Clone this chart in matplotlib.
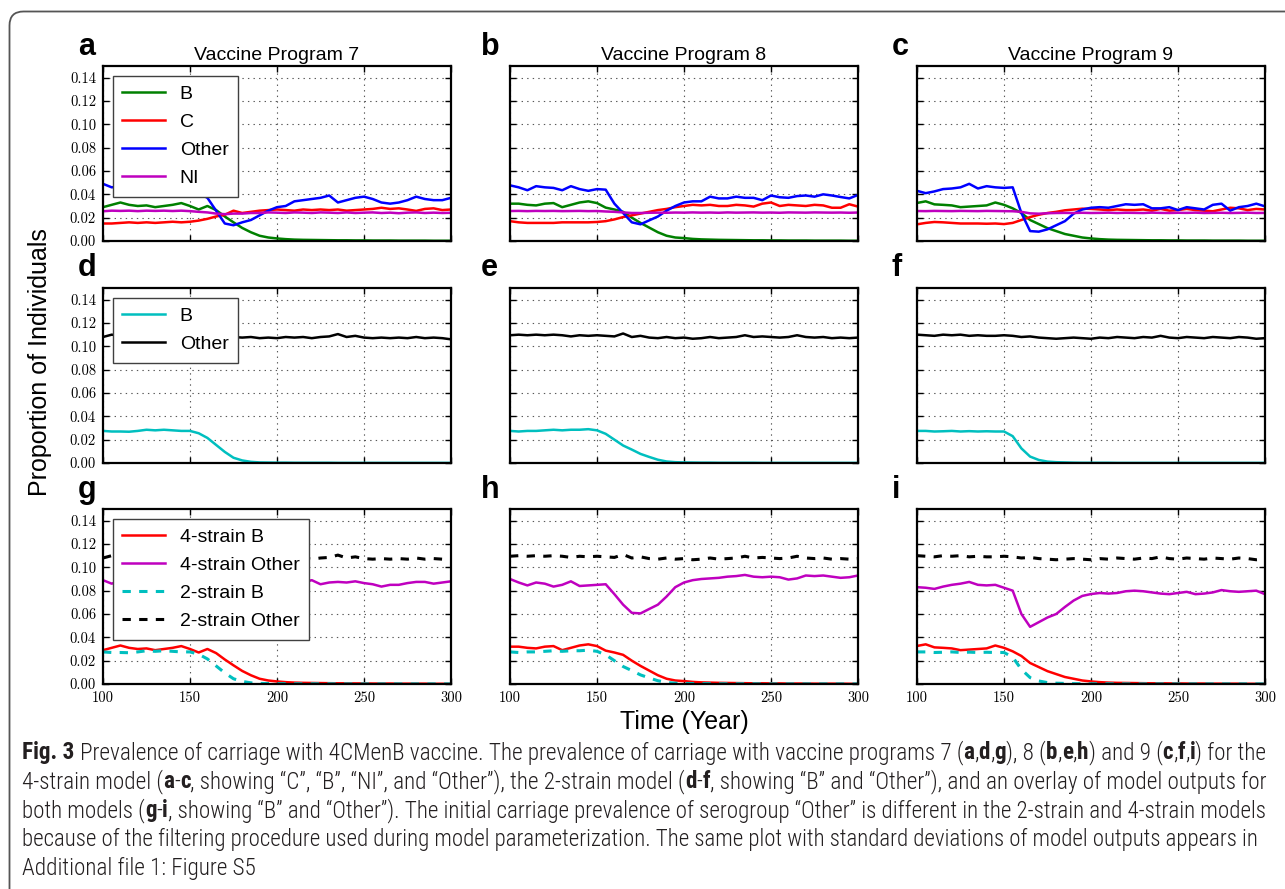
import matplotlib
matplotlib.use("Agg")
import matplotlib.pyplot as plt
from matplotlib import font_manager as fm
from matplotlib.patches import FancyBboxPatch
from matplotlib.transforms import IdentityTransform
from matplotlib.ticker import FixedLocator, FormatStrFormatter

# ---------------------------------------------------------------- data
years = list(range(100, 301, 5))
x_ticks = [100, 150, 200, 250, 300]
y_ticks = [0.00, 0.02, 0.04, 0.06, 0.08, 0.10, 0.12, 0.14]

programs = ["Vaccine Program 7", "Vaccine Program 8", "Vaccine Program 9"]
panel_letters = ["a", "b", "c", "d", "e", "f", "g", "h", "i"]

# 4-strain model (panels a-c)
b4_vp7 = [0.029, 0.031, 0.033, 0.031, 0.030, 0.0305, 0.029, 0.030, 0.031, 0.0325, 0.030,
          0.027, 0.030, 0.0265, 0.021, 0.016, 0.0112, 0.0075, 0.0045, 0.003, 0.0022,
          0.0016, 0.0012, 0.001, 0.0009, 0.0008, 0.0007, 0.0006, 0.0006, 0.0005, 0.0005,
          0.0004, 0.0004, 0.0004, 0.0003, 0.0003, 0.0003, 0.0003, 0.0002, 0.0002, 0.0002]
c4_vp7 = [0.015, 0.015, 0.0155, 0.016, 0.0155, 0.016, 0.0155, 0.016, 0.0165, 0.016, 0.0165,
          0.0175, 0.019, 0.021, 0.0225, 0.026, 0.024, 0.025, 0.026, 0.0265, 0.027,
          0.0265, 0.026, 0.027, 0.0265, 0.027, 0.0265, 0.027, 0.026, 0.0265, 0.027,
          0.0275, 0.0285, 0.0275, 0.028, 0.027, 0.0258, 0.0275, 0.028, 0.0265, 0.027]
other4_vp7 = [0.049, 0.046, 0.047, 0.046, 0.045, 0.046, 0.044, 0.045, 0.044, 0.045, 0.043,
              0.041, 0.037, 0.026, 0.015, 0.0135, 0.016, 0.018, 0.022, 0.026, 0.029,
              0.030, 0.034, 0.035, 0.036, 0.037, 0.039, 0.033, 0.035, 0.037, 0.038,
              0.036, 0.033, 0.032, 0.033, 0.035, 0.038, 0.036, 0.035, 0.035, 0.037]
ni4_vp7 = [0.0255, 0.026, 0.0258, 0.026, 0.0256, 0.026, 0.0258, 0.026, 0.0257, 0.026, 0.0256,
           0.025, 0.0245, 0.0235, 0.023, 0.0235, 0.0235, 0.024, 0.024, 0.0245, 0.0243,
           0.024, 0.0245, 0.0243, 0.024, 0.0245, 0.0243, 0.024, 0.0245, 0.024, 0.0243,
           0.0245, 0.024, 0.0243, 0.0238, 0.0243, 0.0245, 0.024, 0.0243, 0.024, 0.0242]

b4_vp8 = [0.032, 0.032, 0.031, 0.0305, 0.032, 0.0325, 0.029, 0.031, 0.033, 0.034, 0.0325,
          0.0286, 0.027, 0.025, 0.020, 0.0155, 0.0115, 0.0075, 0.0045, 0.003, 0.0025,
          0.0018, 0.0014, 0.0012, 0.001, 0.0009, 0.0008, 0.0007, 0.0006, 0.0006, 0.0005,
          0.0005, 0.0004, 0.0004, 0.0004, 0.0003, 0.0003, 0.0003, 0.0003, 0.0002, 0.0002]
c4_vp8 = [0.017, 0.016, 0.0155, 0.0155, 0.0155, 0.0155, 0.016, 0.016, 0.016, 0.016, 0.0163,
          0.017, 0.0185, 0.0205, 0.022, 0.0235, 0.025, 0.0265, 0.0275, 0.029, 0.030,
          0.031, 0.0305, 0.031, 0.030, 0.030, 0.031, 0.0305, 0.0295, 0.032, 0.033,
          0.030, 0.031, 0.0305, 0.030, 0.031, 0.0305, 0.0285, 0.0285, 0.0315, 0.0295]
other4_vp8 = [0.0477, 0.046, 0.0435, 0.047, 0.046, 0.0455, 0.0435, 0.047, 0.0445, 0.043, 0.0445,
              0.044, 0.032, 0.024, 0.016, 0.0143, 0.0177, 0.021, 0.026, 0.030, 0.033,
              0.034, 0.034, 0.038, 0.0365, 0.0365, 0.038, 0.037, 0.037, 0.035, 0.039,
              0.0375, 0.037, 0.0385, 0.039, 0.038, 0.040, 0.039, 0.0377, 0.0365, 0.0395]
ni4_vp8 = [0.0257, 0.0258, 0.0256, 0.0258, 0.0257, 0.0258, 0.0256, 0.0257, 0.0258, 0.0256, 0.0257,
           0.0253, 0.025, 0.0245, 0.024, 0.024, 0.0242, 0.0243, 0.0242, 0.0244, 0.0243,
           0.0245, 0.0243, 0.0244, 0.0242, 0.0245, 0.0243, 0.0244, 0.0245, 0.0243, 0.0244,
           0.0242, 0.0245, 0.0244, 0.0243, 0.0245, 0.0244, 0.0243, 0.0244, 0.0242, 0.0244]

b4_vp9 = [0.0326, 0.034, 0.0314, 0.031, 0.0305, 0.029, 0.0295, 0.030, 0.0305, 0.033, 0.031,
          0.028, 0.024, 0.018, 0.0145, 0.011, 0.0085, 0.006, 0.0045, 0.003, 0.0022,
          0.0016, 0.0012, 0.001, 0.0009, 0.0008, 0.0007, 0.0006, 0.0006, 0.0005, 0.0005,
          0.0004, 0.0004, 0.0004, 0.0003, 0.0003, 0.0003, 0.0003, 0.0002, 0.0002, 0.0002]
c4_vp9 = [0.0143, 0.0155, 0.0163, 0.016, 0.0155, 0.015, 0.015, 0.015, 0.0148, 0.015, 0.0145,
          0.0155, 0.018, 0.0205, 0.0225, 0.024, 0.025, 0.0263, 0.027, 0.0277, 0.0275,
          0.027, 0.0265, 0.027, 0.0265, 0.0265, 0.027, 0.026, 0.0275, 0.026, 0.0265,
          0.0275, 0.0265, 0.026, 0.0255, 0.027, 0.0285, 0.028, 0.0265, 0.0275, 0.027]
other4_vp9 = [0.043, 0.041, 0.0425, 0.0445, 0.045, 0.046, 0.049, 0.045, 0.047, 0.046, 0.0455,
              0.046, 0.024, 0.0085, 0.008, 0.010, 0.0135, 0.017, 0.0234, 0.027, 0.0285,
              0.029, 0.0285, 0.030, 0.0315, 0.031, 0.0315, 0.028, 0.028, 0.029, 0.0265,
              0.029, 0.028, 0.027, 0.031, 0.032, 0.026, 0.029, 0.030, 0.032, 0.0297]
ni4_vp9 = [0.0257, 0.0256, 0.0258, 0.0257, 0.0256, 0.0258, 0.0257, 0.0256, 0.0258, 0.0257, 0.0256,
           0.0255, 0.025, 0.0237, 0.0234, 0.0238, 0.024, 0.0241, 0.024, 0.0242, 0.024,
           0.0241, 0.0243, 0.024, 0.0242, 0.0241, 0.024, 0.0243, 0.0241, 0.024, 0.0242,
           0.0241, 0.0243, 0.024, 0.0241, 0.0242, 0.024, 0.0241, 0.0243, 0.024, 0.0241]

# 2-strain model (panels d-f)
b2_vp7 = [0.0275, 0.027, 0.027, 0.0268, 0.0275, 0.0285, 0.028, 0.0285, 0.028, 0.0275, 0.0275,
          0.0255, 0.0215, 0.0155, 0.0095, 0.0045, 0.0022, 0.001, 0.0005, 0.0004, 0.0003,
          0.0003, 0.0002, 0.0002, 0.0002, 0.0002, 0.0002, 0.0001, 0.0001, 0.0001, 0.0001,
          0.0001, 0.0001, 0.0001, 0.0001, 0.0001, 0.0001, 0.0001, 0.0001, 0.0001, 0.0001]
b2_vp8 = [0.0275, 0.027, 0.0275, 0.0275, 0.028, 0.0285, 0.028, 0.0285, 0.0285, 0.029, 0.028,
          0.025, 0.020, 0.015, 0.0115, 0.0078, 0.0052, 0.0028, 0.0013, 0.0007, 0.0005,
          0.0004, 0.0003, 0.0003, 0.0002, 0.0002, 0.0002, 0.0002, 0.0002, 0.0001, 0.0001,
          0.0001, 0.0001, 0.0001, 0.0001, 0.0001, 0.0001, 0.0001, 0.0001, 0.0001, 0.0001]
b2_vp9 = [0.0275, 0.0275, 0.027, 0.0272, 0.0275, 0.027, 0.0273, 0.027, 0.0272, 0.027, 0.027,
          0.023, 0.0125, 0.0055, 0.0026, 0.0012, 0.0007, 0.0005, 0.0003, 0.0002, 0.0002,
          0.0002, 0.0002, 0.0001, 0.0001, 0.0001, 0.0001, 0.0001, 0.0001, 0.0001, 0.0001,
          0.0001, 0.0001, 0.0001, 0.0001, 0.0001, 0.0001, 0.0001, 0.0001, 0.0001, 0.0001]
other2_vp7 = [0.108, 0.110, 0.109, 0.108, 0.1085, 0.108, 0.109, 0.1085, 0.108, 0.109, 0.1085,
              0.108, 0.1085, 0.108, 0.1075, 0.108, 0.1075, 0.108, 0.107, 0.1075, 0.107,
              0.108, 0.1075, 0.108, 0.107, 0.108, 0.1085, 0.1105, 0.108, 0.109, 0.1075,
              0.107, 0.1075, 0.107, 0.1075, 0.107, 0.108, 0.107, 0.1075, 0.107, 0.106]
other2_vp8 = [0.1095, 0.110, 0.1095, 0.110, 0.1095, 0.110, 0.1095, 0.1085, 0.1095, 0.109, 0.1095,
              0.109, 0.1085, 0.111, 0.108, 0.109, 0.1075, 0.107, 0.108, 0.107, 0.1075,
              0.1065, 0.107, 0.108, 0.107, 0.1075, 0.108, 0.1095, 0.108, 0.1085, 0.108,
              0.1075, 0.108, 0.1095, 0.108, 0.1075, 0.108, 0.107, 0.1075, 0.107, 0.1075]
other2_vp9 = [0.110, 0.1095, 0.109, 0.110, 0.1095, 0.110, 0.109, 0.1095, 0.109, 0.109, 0.1095,
              0.109, 0.108, 0.1085, 0.1075, 0.107, 0.1065, 0.107, 0.1075, 0.107, 0.1065,
              0.1075, 0.107, 0.108, 0.1075, 0.107, 0.108, 0.1075, 0.109, 0.1075, 0.107,
              0.108, 0.1075, 0.107, 0.108, 0.1075, 0.107, 0.108, 0.1075, 0.1065, 0.107]

# 4-strain "Other" (all non-B) shown in overlay panels g-i
oth4all_vp7 = [0.089, 0.086, 0.0885, 0.088, 0.086, 0.0875, 0.085, 0.087, 0.086, 0.087, 0.085,
               0.084, 0.080, 0.070, 0.061, 0.062, 0.0635, 0.0665, 0.072, 0.077, 0.080,
               0.081, 0.084, 0.087, 0.089, 0.0855, 0.087, 0.0875, 0.087, 0.088, 0.0865,
               0.0855, 0.0835, 0.085, 0.085, 0.0865, 0.0875, 0.0875, 0.086, 0.087, 0.088]
oth4all_vp8 = [0.090, 0.087, 0.0845, 0.087, 0.086, 0.0835, 0.085, 0.088, 0.084, 0.0845, 0.085,
               0.0855, 0.077, 0.068, 0.061, 0.0605, 0.0643, 0.068, 0.075, 0.083, 0.087,
               0.089, 0.090, 0.0905, 0.091, 0.092, 0.0925, 0.0935, 0.092, 0.0915, 0.092,
               0.0915, 0.0895, 0.0905, 0.093, 0.0925, 0.093, 0.092, 0.091, 0.0915, 0.093]
oth4all_vp9 = [0.083, 0.0825, 0.0815, 0.0835, 0.085, 0.086, 0.0875, 0.085, 0.0845, 0.085, 0.0825,
               0.080, 0.060, 0.049, 0.053, 0.057, 0.060, 0.066, 0.0715, 0.0755, 0.0771,
               0.078, 0.0775, 0.078, 0.0795, 0.080, 0.0795, 0.0785, 0.0775, 0.077, 0.078,
               0.079, 0.077, 0.0775, 0.0785, 0.0805, 0.0795, 0.079, 0.0795, 0.080, 0.077]

for arr in [b4_vp7, c4_vp7, other4_vp7, ni4_vp7, b4_vp8, c4_vp8, other4_vp8, ni4_vp8,
            b4_vp9, c4_vp9, other4_vp9, ni4_vp9, b2_vp7, b2_vp8, b2_vp9,
            other2_vp7, other2_vp8, other2_vp9, oth4all_vp7, oth4all_vp8, oth4all_vp9]:
    assert len(arr) == len(years), len(arr)

four_strain = [(b4_vp7, c4_vp7, other4_vp7, ni4_vp7),
               (b4_vp8, c4_vp8, other4_vp8, ni4_vp8),
               (b4_vp9, c4_vp9, other4_vp9, ni4_vp9)]
two_strain = [(b2_vp7, other2_vp7), (b2_vp8, other2_vp8), (b2_vp9, other2_vp9)]
overlay_other4 = [oth4all_vp7, oth4all_vp8, oth4all_vp9]

# caption; **...** marks bold runs
caption_lines = [
    "**Fig. 3** Prevalence of carriage with 4CMenB vaccine. The prevalence of carriage with vaccine programs 7 (**a**,**d**,**g**), 8 (**b**,**e**,**h**) and 9 (**c**,**f**,**i**) for the",
    "4-strain model (**a**-**c**, showing “C”, “B”, “NI”, and “Other”), the 2-strain model (**d**-**f**, showing “B” and “Other”), and an overlay of model outputs for",
    "both models (**g**-**i**, showing “B” and “Other”). The initial carriage prevalence of serogroup “Other” is different in the 2-strain and 4-strain models",
    "because of the filtering procedure used during model parameterization. The same plot with standard deviations of model outputs appears in",
    "Additional file 1: Figure S5",
]

# ---------------------------------------------------------------- fonts
names = {f.name for f in fm.fontManager.ttflist}
cap_family = "Liberation Sans"
for cand in ["Liberation Sans Narrow", "Roboto Condensed", "Noto Sans Condensed",
             "Open Sans Condensed", "DejaVu Sans Condensed"]:
    if cand in names:
        cap_family = cand
        break

plt.rcParams["font.family"] = ["Liberation Sans", "DejaVu Sans"]
plt.rcParams["lines.scale_dashes"] = False

W, H, DPI = 1285, 889, 100
fig = plt.figure(figsize=(W / DPI, H / DPI), dpi=DPI, facecolor="white")

col_x = [103, 510, 917]
row_top = [66, 288, 509]
AW, AH = 348, 175
letter_x = [78, 481, 892]
letter_base = [55, 276, 498]

C_G, C_R, C_B, C_M, C_C, C_K = "#008000", "#ff0000", "#0000ff", "#bf00bf", "#00bfbf", "#000000"
LW = 1.8


def make_ax(r, c):
    ax = fig.add_axes([col_x[c] / W, 1 - (row_top[r] + AH) / H, AW / W, AH / H])
    ax.set_xlim(100, 300)
    ax.set_ylim(0, 0.15)
    ax.xaxis.set_major_locator(FixedLocator(x_ticks))
    ax.yaxis.set_major_locator(FixedLocator(y_ticks))
    ax.yaxis.set_major_formatter(FormatStrFormatter("%.2f"))
    ax.grid(True, color="0.35", linestyle=(0, (1, 3)), linewidth=0.8)
    ax.tick_params(direction="in", length=4, width=1, top=True, right=True,
                   labelsize=10.5, labelfontfamily="cmr10", pad=5,
                   labelleft=(c == 0), labelbottom=(r == 2))
    for s in ax.spines.values():
        s.set_linewidth(1.6)
    fig.text(letter_x[c] / W, 1 - letter_base[r] / H, panel_letters[3 * r + c],
             fontsize=22, fontweight="bold", ha="left", va="baseline")
    return ax


def add_legend(ax):
    leg = ax.legend(loc="upper left", fontsize=14, frameon=True, fancybox=False,
                    framealpha=1, edgecolor="0.25", borderpad=0.5, labelspacing=0.53,
                    handlelength=2.2, handletextpad=0.75, borderaxespad=0.5)
    leg.get_frame().set_linewidth(1.0)


for c in range(3):
    # row 1: 4-strain model
    ax = make_ax(0, c)
    bb, cc, oo, nn = four_strain[c]
    ax.plot(years, bb, color=C_G, lw=LW, label="B")
    ax.plot(years, cc, color=C_R, lw=LW, label="C")
    ax.plot(years, oo, color=C_B, lw=LW, label="Other")
    ax.plot(years, nn, color=C_M, lw=LW, label="NI")
    ax.set_title(programs[c], fontsize=14, pad=4)
    if c == 0:
        add_legend(ax)

    # row 2: 2-strain model
    ax = make_ax(1, c)
    b2, o2 = two_strain[c]
    ax.plot(years, b2, color=C_C, lw=LW, label="B")
    ax.plot(years, o2, color=C_K, lw=LW, label="Other")
    if c == 0:
        add_legend(ax)

    # row 3: overlay
    ax = make_ax(2, c)
    ax.plot(years, four_strain[c][0], color=C_R, lw=LW, label="4-strain B")
    ax.plot(years, overlay_other4[c], color=C_M, lw=LW, label="4-strain Other")
    ax.plot(years, b2, color=C_C, lw=LW + 0.4, dashes=(6, 6), label="2-strain B")
    ax.plot(years, o2, color=C_K, lw=LW + 0.4, dashes=(6, 6), label="2-strain Other")
    if c == 0:
        add_legend(ax)

fig.text(40 / W, 1 - 362 / H, "Proportion of Individuals", rotation=90, fontsize=18,
         ha="center", va="center")
fig.text(684 / W, 1 - 722 / H, "Time (Year)", fontsize=18, ha="center", va="center")

# ---------------------------------------------------------------- caption
renderer = fig.canvas.get_renderer()
CAP_COLOR = "#231f20"
cap_x = 22
cap_base0 = 759
cap_step = 29
cap_targets = [1243, 1243, 1246, 1237, None]


def seg_width(s, fs, weight):
    t1 = fig.text(0, 0, "|" + s + "|", fontsize=fs, family=cap_family, fontweight=weight)
    t2 = fig.text(0, 0, "||", fontsize=fs, family=cap_family, fontweight=weight)
    w = t1.get_window_extent(renderer).width - t2.get_window_extent(renderer).width
    t1.remove()
    t2.remove()
    return w


def split_line(line):
    parts = line.split("**")
    return [(p, "bold" if i % 2 else "light") for i, p in enumerate(parts) if p]


def line_width(line, fs):
    return sum(seg_width(s, fs, wt) for s, wt in split_line(line))


fs_main = None
for i, line in enumerate(caption_lines):
    target = cap_targets[i]
    if target is not None:
        fs = 12 * target / line_width(line, 12)
        if fs_main is None:
            fs_main = fs
    else:
        fs = fs_main
    xpix = cap_x
    ypos = 1 - (cap_base0 + i * cap_step) / H
    for s, wt in split_line(line):
        stripped = s.lstrip(" ")
        lead = s[: len(s) - len(stripped)]
        lead_w = seg_width(lead, fs, wt) if lead else 0.0
        if stripped:
            fig.text((xpix + lead_w) / W, ypos, stripped, fontsize=fs, family=cap_family,
                     fontweight=wt, color=CAP_COLOR, ha="left", va="baseline")
        xpix += seg_width(s, fs, wt)

frame = FancyBboxPatch((9.5, -60), 1400, H - 11.5 + 60,
                       boxstyle="round,pad=0,rounding_size=14",
                       transform=IdentityTransform(), fill=False,
                       edgecolor="#555555", linewidth=1.3)
fig.add_artist(frame)

fig.savefig("out.png", dpi=DPI, facecolor="white")
